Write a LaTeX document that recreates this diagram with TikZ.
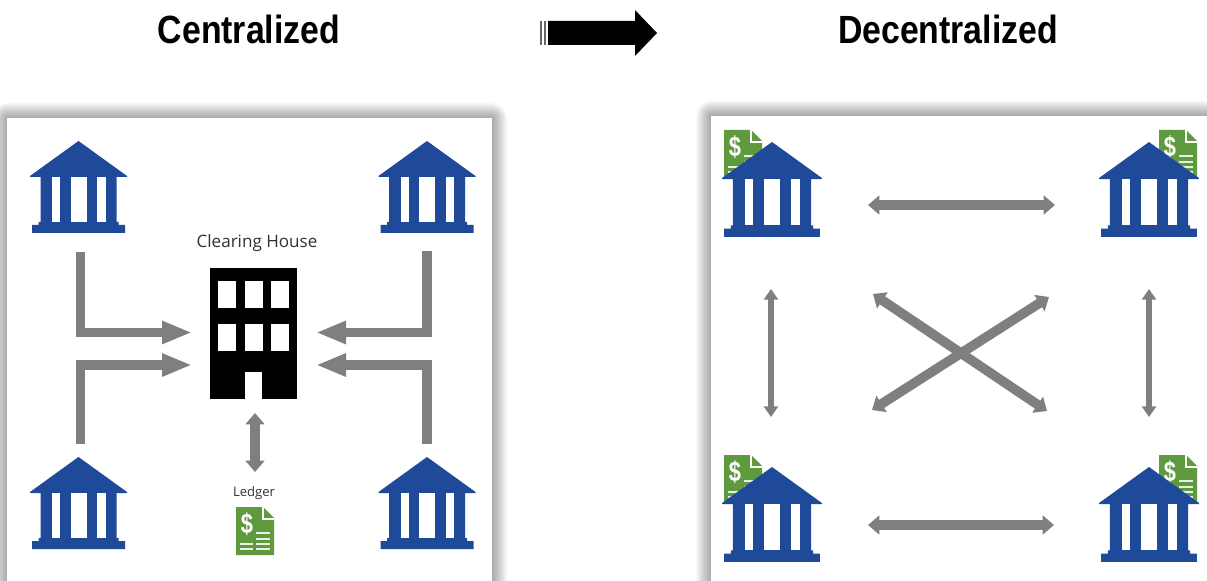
\documentclass[tikz,border=0pt]{standalone}
\usepackage{fontspec}
\setmainfont{Open Sans}
\newfontfamily\titlefont{Liberation Sans}
\usetikzlibrary{arrows.meta}
\definecolor{bankblue}{HTML}{1F4A9A}
\definecolor{ledgergreen}{HTML}{5F9B3E}
\definecolor{flowgray}{HTML}{7F7F7F}
\tikzset{
  flow/.style={draw=flowgray, line width=6.9pt, -{Triangle[length=22.5pt,width=16pt]}},
  link/.style={draw=flowgray, line width=7.2pt, {Triangle[length=8.5pt,width=14pt]}-{Triangle[length=8.5pt,width=14pt]}},
  thinlink/.style={draw=flowgray, line width=4.2pt, {Triangle[length=8pt,width=10.5pt]}-{Triangle[length=8pt,width=10.5pt]}},
  heading/.style={font=\titlefont\bfseries\fontsize{29.5}{32}\selectfont, xscale=.86},
  bank/.pic={
    \fill[white] (-38,36) rectangle (38,81);
    \fill[bankblue] (0,0) -- (48.5,35) -- (48.5,36) -- (38,36) -- (38,81) -- (40,81) -- (40,84)
      -- (46.5,84) -- (46.5,92) -- (-46.5,92) -- (-46.5,84) -- (-40,84) -- (-40,81) -- (-38,81)
      -- (-38,36) -- (-48.5,36) -- (-48.5,35) -- cycle;
    \foreach \xa/\xb in {-26.5/-18.5,-8/8,18.5/27}{
      \fill[white] (\xa,36) rectangle (\xb,81);}
  },
  ledger/.pic={
    \fill[ledgergreen] (0,0) -- (27,0) -- (38,11) -- (38,48) -- (0,48) -- cycle;
    \draw[white, line width=.8pt] (27,0) -- (27,12) -- (38,12);
    \node[white, font=\titlefont\bfseries\fontsize{21}{21}\selectfont, xscale=.78] (dollar) at (11,17.5) {\$};
    \foreach \y in {26,32,37,42}{
      \draw[white!85!ledgergreen, line width=1.2pt] (20,\y) -- (34,\y);}
    \foreach \y in {37,42}{
      \draw[white!85!ledgergreen, line width=1.2pt] (4,\y) -- (17,\y);}
  }
}

\begin{document}
\begin{tikzpicture}
  [x=.75pt, y=-.75pt]
    \clip (0,0) rectangle (1207,581);
    \fill[white] (0,0) rectangle (1207,581);

    \foreach \s in {15,14,...,1}{
      \fill[black, opacity=.024, rounded corners=.75*\s pt] (7-\s,118-\s) rectangle (492+\s,620);
      \fill[black, opacity=.024, rounded corners=.75*\s pt] (711-\s,116-\s) rectangle (1240,620);}
    \fill[white] (7,118) rectangle (492,620);
    \fill[white] (711,116) rectangle (1240,620);

    \node[heading] (central) at (249,29) {Centralized};
    \node[heading] (decentral) at (948,29) {Decentralized};
    \fill[black] (548,21) -- (635,21) -- (635,10) -- (657,33) -- (635,56)
      -- (635,45) -- (548,45) -- cycle;
    \foreach \xa/\xb in {540/542,543.5/546}{
      \fill[black!60] (\xa,21) rectangle (\xb,45);}

    \foreach \name/\x/\y in {l1/78.5/141,l2/427/141,l3/78.5/457,l4/427/457}{
      \pic (\name) at (\x,\y) {bank};}

    \fill[black] (210,268) rectangle (297,399);
    \foreach \x in {218,244.5,271}{
      \foreach \y in {281,324}{
        \fill[white] (\x,\y) rectangle +(18,26.5);}}
    \fill[white] (245,372) rectangle (262,400);
    \node[text=black!80, font=\fontsize{12.8}{15}\selectfont] (house) at (257,243) {Clearing House};
    \node[text=black!80, font=\fontsize{9.8}{12}\selectfont] (ledgerlabel) at (254,493) {Ledger};
    \pic (book) at (236,507) {ledger};

    \foreach \name/\x/\y in {a1/80.5/252,a2/80.5/444,a3/427/251,a4/427/444,
                  h1/192/332.5,h2/192/365,h3/316/332.5,h4/316/365,
                  u1/255/413,u2/255/472}{
      \coordinate (\name) at (\x,\y);}
    \foreach \from/\to in {a1/h1,a2/h2,a3/h3,a4/h4}{
      \draw[flow] (\from) |- (\to);}
    \draw[link] (u1) -- (u2);

    \foreach \name/\x/\y in {d1/724/130,d2/1159/130,d3/724/455,d4/1159/455}{
      \pic (\name) at (\x,\y) {ledger};}
    \foreach \name/\x/\y in {r1/772/142,r2/1149/142,r3/772/467,r4/1149/467}{
      \pic[scale=1.03] (\name) at (\x,\y) {bank};}

    \foreach \name/\x/\y in {p1/868/205,p2/1055/205,p3/868/525,p4/1054/525,
                  v1/771/289,v2/771/417,v3/1149/289,v4/1149/417,
                  c1/873/294,c2/1047/411,c3/1049/297,c4/872/410}{
      \coordinate (\name) at (\x,\y);}
    \foreach \from/\to in {p1/p2,p3/p4,c1/c2,c3/c4}{
      \draw[link] (\from) -- (\to);}
    \foreach \from/\to in {v1/v2,v3/v4}{
      \draw[thinlink] (\from) -- (\to);}
  \end{tikzpicture}
\end{document}
